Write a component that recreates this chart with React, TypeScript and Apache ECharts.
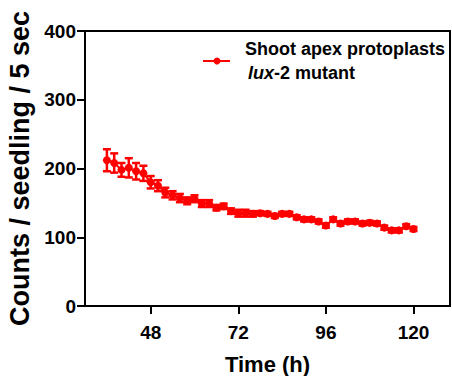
import React, { useEffect, useRef } from "react";
import * as echarts from "echarts";

const hours = [36, 38, 40, 42, 44, 46, 48, 50, 52, 54, 56, 58, 60, 62, 64, 66, 68, 70, 72, 74, 76, 78, 80, 82, 84, 86, 88, 90, 92, 94, 96, 98, 100, 102, 104, 106, 108, 110, 112, 114, 116, 118, 120];
const counts = [212, 208, 198, 201, 196, 193, 180, 175, 165, 161, 157, 153, 156, 149, 149, 143, 145, 138, 135, 135, 134, 135, 134, 131, 134, 134, 129, 126, 126, 123, 117, 126, 120, 123, 123, 120, 121, 120, 114, 110, 110, 116, 112];
const errors = [16, 14, 10, 14, 12, 11, 9, 8, 7, 6, 6, 5, 5, 5, 5, 4, 4, 4, 5, 5, 4, 3, 3, 3, 3, 3, 3, 3, 3, 3, 3, 3, 3, 3, 3, 3, 3, 3, 3, 3, 3, 3, 3];
const yTicks = [0, 100, 200, 300, 400];
const xTickValues = [48, 72, 96, 120];
const seriesName = "Shoot apex protoplasts";

const RED = "#ff0000";
const FONT = "'Liberation Sans', Arial, sans-serif";

export default function App() {
  const ref = useRef<HTMLDivElement>(null);
  useEffect(() => {
    if (!ref.current) return;
    const chart = echarts.init(ref.current, null, { renderer: "svg" });
    const points = hours.map((h, i) => [h, counts[i]]);
    const bars = hours.map((h, i) => [h, counts[i] - errors[i], counts[i] + errors[i]]);
    chart.setOption({
      animation: false,
      backgroundColor: "#fff",
      grid: {
        left: 85,
        right: 2,
        top: 31,
        bottom: 70,
        show: true,
        borderColor: "#000",
        borderWidth: 2,
        containLabel: false,
        outerBoundsMode: "none",
      },
      xAxis: {
        type: "value",
        min: 30,
        max: 130,
        name: "Time (h)",
        nameLocation: "middle",
        nameGap: 47,
        nameTextStyle: { fontFamily: FONT, fontWeight: "bold", fontSize: 22, color: "#000" },
        axisLine: { lineStyle: { color: "#000", width: 2 } },
        axisTick: { show: true, length: 8, lineStyle: { color: "#000", width: 2 }, customValues: xTickValues },
        axisLabel: { fontFamily: FONT, fontWeight: "bold", fontSize: 19, color: "#000", margin: 17, customValues: xTickValues },
        splitLine: { show: false },
      },
      yAxis: {
        type: "value",
        min: 0,
        max: 400,
        interval: 100,
        name: "Counts / seedling / 5 sec",
        nameLocation: "middle",
        nameGap: 48,
        nameTextStyle: { fontFamily: FONT, fontWeight: "bold", fontSize: 27, color: "#000" },
        axisLine: { show: true, lineStyle: { color: "#000", width: 2 } },
        axisTick: { show: true, length: 8, lineStyle: { color: "#000", width: 2 } },
        axisLabel: { fontFamily: FONT, fontWeight: "bold", fontSize: 19, color: "#000", margin: 9, customValues: yTicks },
        splitLine: { show: false },
      },
      series: [
        {
          type: "custom",
          name: "err",
          data: bars,
          z: 2,
          renderItem: (params: any, api: any) => {
            const x = api.value(0);
            const top = api.coord([x, api.value(2)]);
            const bot = api.coord([x, api.value(1)]);
            const w = 4;
            const style = { stroke: RED, lineWidth: 2.5 };
            return {
              type: "group",
              children: [
                { type: "line", shape: { x1: top[0], y1: top[1], x2: bot[0], y2: bot[1] }, style },
                { type: "line", shape: { x1: top[0] - w, y1: top[1], x2: top[0] + w, y2: top[1] }, style },
                { type: "line", shape: { x1: bot[0] - w, y1: bot[1], x2: bot[0] + w, y2: bot[1] }, style },
              ],
            };
          },
        },
        {
          type: "line",
          name: seriesName,
          data: points,
          symbol: "circle",
          symbolSize: 8,
          itemStyle: { color: RED },
          lineStyle: { color: RED, width: 2 },
          z: 3,
        },
      ],
      graphic: [
        { type: "line", shape: { x1: 203, y1: 61, x2: 230, y2: 61 }, style: { stroke: RED, lineWidth: 2 } },
        { type: "circle", shape: { cx: 217, cy: 61, r: 3.5 }, style: { fill: RED } },
        {
          type: "text",
          x: 245,
          y: 49,
          style: {
            text: seriesName,
            fontFamily: FONT,
            fontWeight: "bold",
            fontSize: 18,
            fill: "#000",
            verticalAlign: "middle",
          },
        },
        {
          type: "text",
          x: 248,
          y: 73,
          style: {
            text: "{i|lux}{n|-2 mutant}",
            verticalAlign: "middle",
            rich: {
              i: { fontFamily: FONT, fontStyle: "italic", fontWeight: "bold", fontSize: 18, fill: "#000", color: "#000" },
              n: { fontFamily: FONT, fontWeight: "bold", fontSize: 18, fill: "#000", color: "#000" },
            },
          },
        },
      ],
    });
    return () => chart.dispose();
  }, []);
  return <div ref={ref} style={{ width: 452, height: 376, position: "absolute", left: 0, top: 0 }} />;
}
